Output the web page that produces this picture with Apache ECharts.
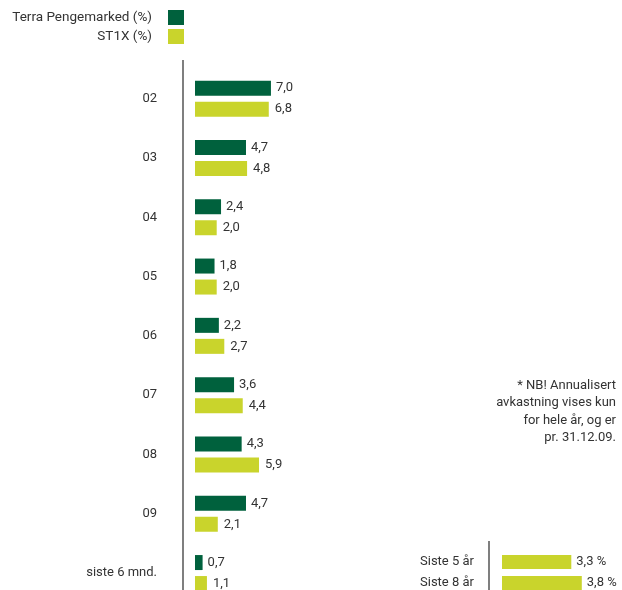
<!DOCTYPE html>
<html>
<head>
<meta charset="utf-8">
<script src="https://cdn.jsdelivr.net/npm/echarts@6/dist/echarts.min.js"></script>
<style>
  html, body { margin: 0; padding: 0; background: #fff; }
  #chart { width: 622px; height: 590px; }
</style>
</head>
<body>
<div id="chart"></div>
<script>
// Yearly returns per period
const categories = ['02', '03', '04', '05', '06', '07', '08', '09', 'siste 6 mnd.'];
const terraValues = [7.0, 4.7, 2.4, 1.8, 2.2, 3.6, 4.3, 4.7, 0.7];
const st1xValues = [6.8, 4.8, 2.0, 2.0, 2.7, 4.4, 5.9, 2.1, 1.1];

// Annualised return
const periods = ['Siste 5 år', 'Siste 8 år'];
const annualValues = [3.3, 3.8];

const noteLines = ['* NB! Annualisert', 'avkastning vises kun', 'for hele år, og er', 'pr. 31.12.09.'];

const DARK = '#00613d';
const LIGHT = '#c9d42c';
const TEXT = '#333333';
const FONT = 'Roboto';

const fmt = v => v.toFixed(1).replace('.', ',');

const chart = echarts.init(document.getElementById('chart'));

// Note in the right margin, one right-aligned element per line
const noteGraphics = noteLines.map((line, i) => ({
  type: 'text', right: 6, top: 379 + i * 17.4,
  style: { text: line, fill: TEXT, font: '13px ' + FONT }
}));

chart.setOption({
  animation: false,
  textStyle: { fontFamily: FONT },
  legend: {
    orient: 'vertical',
    align: 'right',
    right: 438,
    top: 10,
    padding: 0,
    itemWidth: 16,
    itemHeight: 15,
    itemGap: 4,
    icon: 'rect',
    selectedMode: false,
    data: ['Terra Pengemarked (%)', 'ST1X (%)'],
    textStyle: { color: TEXT, fontSize: 13.5, fontFamily: FONT, padding: [0, 11, 0, 0] }
  },
  grid: [
    { left: 195, top: 69, width: 108.5, height: 533.7, outerBoundsMode: 'none', containLabel: false },
    { left: 502, top: 551.5, width: 105, height: 42, outerBoundsMode: 'none', containLabel: false }
  ],
  xAxis: [
    { gridIndex: 0, type: 'value', min: 0, max: 10, show: false },
    { gridIndex: 1, type: 'value', min: 0, max: 5, show: false }
  ],
  yAxis: [
    {
      gridIndex: 0, type: 'category', inverse: true, data: categories,
      axisLine: { show: false }, axisTick: { show: false }, splitLine: { show: false },
      offset: 12,
      axisLabel: { margin: 26, color: TEXT, fontSize: 13, fontFamily: FONT }
    },
    {
      gridIndex: 1, type: 'category', inverse: true, data: periods,
      axisLine: { show: false }, axisTick: { show: false }, splitLine: { show: false },
      offset: 13,
      axisLabel: { margin: 15, color: TEXT, fontSize: 13, fontFamily: FONT }
    }
  ],
  series: [
    {
      name: 'Terra Pengemarked (%)', type: 'bar', xAxisIndex: 0, yAxisIndex: 0,
      data: terraValues, barWidth: 15, barGap: '40%',
      itemStyle: { color: DARK },
      label: { show: true, position: 'right', distance: 5, color: TEXT, fontSize: 13, fontFamily: FONT, formatter: p => fmt(p.value) }
    },
    {
      name: 'ST1X (%)', type: 'bar', xAxisIndex: 0, yAxisIndex: 0,
      data: st1xValues, barWidth: 15, barGap: '40%',
      itemStyle: { color: LIGHT },
      label: { show: true, position: 'right', distance: 6, color: TEXT, fontSize: 13, fontFamily: FONT, formatter: p => fmt(p.value) }
    },
    {
      name: 'Annualisert', type: 'bar', xAxisIndex: 1, yAxisIndex: 1,
      data: annualValues, barWidth: 14,
      itemStyle: { color: LIGHT },
      label: { show: true, position: 'right', distance: 5, color: TEXT, fontSize: 13, fontFamily: FONT, formatter: p => fmt(p.value) + ' %' }
    }
  ],
  graphic: [
    { type: 'line', shape: { x1: 183, y1: 60, x2: 183, y2: 590 }, style: { stroke: '#7f7f7f', lineWidth: 2 } },
    { type: 'line', shape: { x1: 489, y1: 541, x2: 489, y2: 590 }, style: { stroke: '#7f7f7f', lineWidth: 2 } }
  ].concat(noteGraphics)
});
</script>
</body>
</html>
